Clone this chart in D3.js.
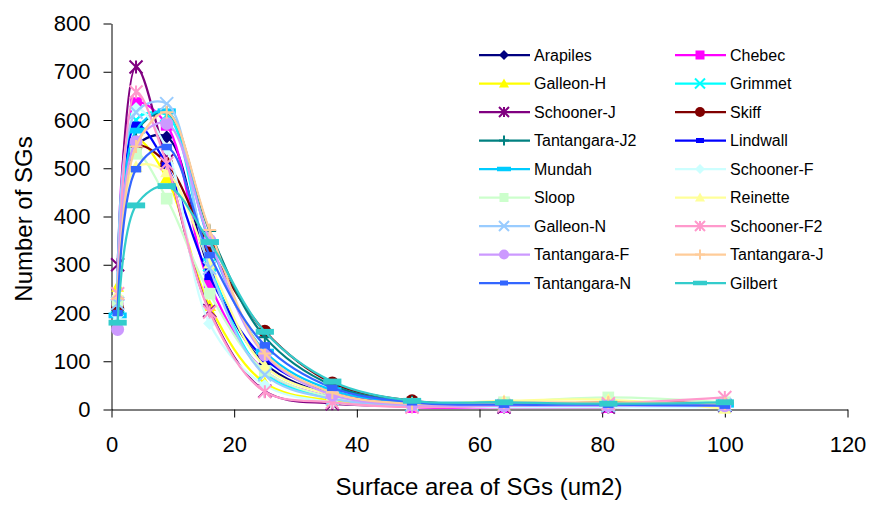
<!DOCTYPE html>
<html>
<head>
<meta charset="utf-8">
<script src="https://cdn.jsdelivr.net/npm/d3@7"></script>
<style>
  body { margin: 0; background: #fff; }
  svg { display: block; }
  text { font-family: "Liberation Sans", Arial, sans-serif; fill: #000; }
</style>
</head>
<body>
<svg id="chart" width="873" height="506"></svg>
<script>
// Surface area classes (um2)
const areas = [1, 4, 9, 16, 25, 36, 49, 64, 81, 100];

// Number of SGs per class, one array per sample
const arapiles     = [210, 545, 565, 290, 95, 30, 10, 8, 10, 8];
const chebec       = [210, 635, 590, 260, 80, 25, 5, 5, 5, 10];
const galleonH     = [255, 560, 480, 215, 55, 18, 8, 10, 12, 10];
const grimmet      = [215, 600, 610, 300, 75, 25, 10, 8, 8, 8];
const schoonerJ    = [300, 710, 515, 205, 38, 12, 8, 5, 5, 8];
const skiff        = [210, 545, 510, 335, 162, 55, 18, 10, 15, 12];
const tantangaraJ2 = [200, 575, 615, 370, 150, 50, 15, 10, 10, 15];
const lindwall     = [220, 590, 506, 275, 105, 35, 12, 8, 8, 8];
const mundah       = [195, 578, 618, 347, 120, 40, 15, 10, 10, 10];
const schoonerF    = [195, 624, 540, 178, 50, 15, 8, 5, 5, 5];
const sloop        = [225, 530, 437, 240, 80, 25, 10, 15, 25, 15];
const reinette     = [240, 503, 492, 303, 90, 30, 12, 18, 20, 2];
const galleonN     = [220, 616, 634, 293, 72, 22, 8, 8, 8, 10];
const schoonerF2   = [240, 658, 510, 202, 37, 15, 5, 8, 12, 25];
const tantangaraF  = [166, 555, 593, 351, 113, 30, 10, 8, 8, 8];
const tantangaraJ  = [230, 545, 616, 372, 116, 35, 12, 15, 15, 12];
const tantangaraN  = [200, 498, 544, 320, 133, 45, 15, 10, 10, 8];
const gilbert      = [180, 423, 463, 347, 161, 58, 18, 15, 12, 15];

const seriesNames = ["Arapiles", "Chebec", "Galleon-H", "Grimmet", "Schooner-J", "Skiff",
  "Tantangara-J2", "Lindwall", "Mundah", "Schooner-F", "Sloop", "Reinette",
  "Galleon-N", "Schooner-F2", "Tantangara-F", "Tantangara-J", "Tantangara-N", "Gilbert"];
const seriesValues = [arapiles, chebec, galleonH, grimmet, schoonerJ, skiff,
  tantangaraJ2, lindwall, mundah, schoonerF, sloop, reinette,
  galleonN, schoonerF2, tantangaraF, tantangaraJ, tantangaraN, gilbert];
const seriesColors = ["#000080", "#FF00FF", "#FFFF00", "#00FFFF", "#800080", "#800000",
  "#008080", "#0000FF", "#00CCFF", "#CCFFFF", "#CCFFCC", "#FFFF99",
  "#99CCFF", "#FF99CC", "#CC99FF", "#FFCC99", "#3366FF", "#33CCCC"];
const markerKinds = ["diamond", "square", "triangle", "x", "star", "circle", "plus", "shortDash", "longDash"];

const xTicks = [0, 20, 40, 60, 80, 100, 120];
const yTicks = [0, 100, 200, 300, 400, 500, 600, 700, 800];

const svg = d3.select("#chart");
const x = d3.scaleLinear().domain([0, 120]).range([111.5, 847.5]);
const y = d3.scaleLinear().domain([0, 800]).range([409.5, 23.5]);

// Axes
const xAxis = svg.append("g").attr("transform", `translate(0,${y(0)})`)
  .call(d3.axisBottom(x).tickValues(xTicks).tickSize(8).tickPadding(19).tickSizeOuter(0));
const yAxis = svg.append("g").attr("transform", `translate(${x(0)},0)`)
  .call(d3.axisLeft(y).tickValues(yTicks).tickSize(8).tickPadding(13).tickSizeOuter(0));
[xAxis, yAxis].forEach(a => {
  a.select(".domain").attr("stroke", "#000");
  a.selectAll(".tick line").attr("stroke", "#000");
  a.selectAll(".tick text").style("font-size", "22px").attr("fill", "#000")
    .style("font-family", '"Liberation Sans", Arial, sans-serif');
});

// Axis titles
svg.append("text").attr("x", 479).attr("y", 495).attr("text-anchor", "middle")
  .style("font-size", "24px").text("Surface area of SGs (um2)");
svg.append("text").attr("transform", "translate(32,219) rotate(-90)").attr("text-anchor", "middle")
  .style("font-size", "24px").text("Number of SGs");

// Marker drawing
function drawMarker(g, kind, color, s) {
  const r = s / 2;
  switch (kind) {
    case "diamond":
      g.append("path").attr("d", `M0,${-r}L${r},0L0,${r}L${-r},0Z`).attr("fill", color);
      break;
    case "square":
      g.append("rect").attr("x", -r * 0.9).attr("y", -r * 0.9).attr("width", r * 1.8).attr("height", r * 1.8).attr("fill", color);
      break;
    case "triangle":
      g.append("path").attr("d", `M0,${-r}L${r},${r * 0.8}L${-r},${r * 0.8}Z`).attr("fill", color);
      break;
    case "x":
      g.append("path").attr("d", `M${-r},${-r}L${r},${r}M${-r},${r}L${r},${-r}`)
        .attr("stroke", color).attr("stroke-width", 2).attr("fill", "none");
      break;
    case "star":
      g.append("path").attr("d", `M${-r},${-r}L${r},${r}M${-r},${r}L${r},${-r}M0,${-r}L0,${r}`)
        .attr("stroke", color).attr("stroke-width", 2).attr("fill", "none");
      break;
    case "circle":
      g.append("circle").attr("r", r).attr("fill", color);
      break;
    case "plus":
      g.append("path").attr("d", `M${-r},0L${r},0M0,${-r}L0,${r}`)
        .attr("stroke", color).attr("stroke-width", 2).attr("fill", "none");
      break;
    case "shortDash":
      g.append("rect").attr("x", -r * 0.8).attr("y", -r * 0.5).attr("width", r * 1.6).attr("height", r).attr("fill", color);
      break;
    case "longDash":
      g.append("rect").attr("x", -r * 1.4).attr("y", -r * 0.45).attr("width", r * 2.8).attr("height", r * 0.9).attr("fill", color);
      break;
  }
}

// Smoothed series lines
const line = d3.line()
  .x((d, i) => x(areas[i]))
  .y(d => y(d))
  .curve(d3.curveCatmullRom.alpha(0.5));

const plot = svg.append("g");
seriesValues.forEach((vals, si) => {
  const color = seriesColors[si];
  const kind = markerKinds[si % markerKinds.length];
  const g = plot.append("g");
  g.append("path").attr("d", line(vals)).attr("fill", "none")
    .attr("stroke", color).attr("stroke-width", 2.25);
  vals.forEach((v, i) => {
    drawMarker(g.append("g").attr("transform", `translate(${x(areas[i])},${y(v)})`), kind, color, 13);
  });
});

// Legend in two columns
const legend = svg.append("g");
seriesNames.forEach((name, si) => {
  const col = si % 2, row = Math.floor(si / 2);
  const lx = col === 0 ? 479 : 675;
  const ly = 55 + row * 28.5;
  const color = seriesColors[si];
  const kind = markerKinds[si % markerKinds.length];
  const g = legend.append("g").attr("transform", `translate(${lx},${ly})`);
  g.append("line").attr("x1", 0).attr("x2", 51).attr("stroke", color).attr("stroke-width", 2.25);
  drawMarker(g.append("g").attr("transform", "translate(25,0)"), kind, color, 10);
  g.append("text").attr("x", 55).attr("dy", "0.36em").style("font-size", "16px").text(name);
});
</script>
</body>
</html>
